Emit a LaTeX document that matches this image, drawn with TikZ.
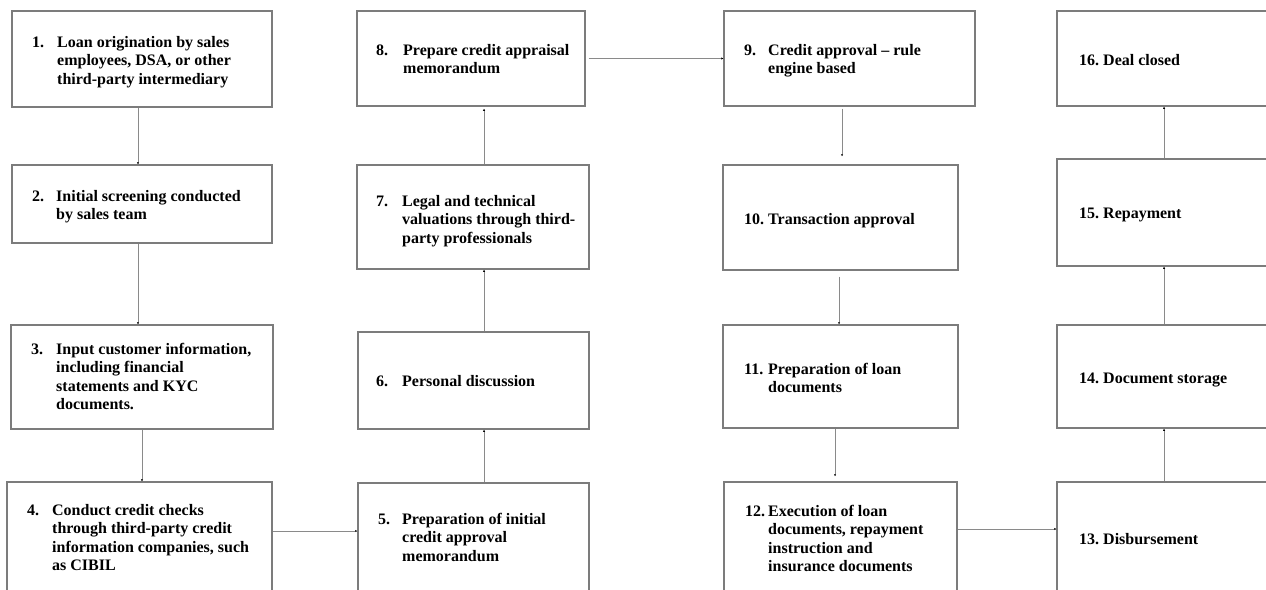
\documentclass[tikz,border=0pt]{standalone}
\usepackage{fontspec}
\setmainfont{Liberation Serif}
\usetikzlibrary{arrows.meta,fit}

\definecolor{boxgray}{HTML}{7C7C7C}
\definecolor{linegray}{HTML}{8A8A8A}

\tikzset{
  stepbox/.style={draw=boxgray, line width=1.1pt, fill=white, inner sep=0pt},
  conn/.style={draw=linegray, line width=0.65pt,
    -{Latex[length=2.2pt,width=2.2pt,color=black]}},
  steptext/.style={anchor=base west, inner sep=0pt,
    font=\fontsize{16}{18.6}\selectfont\bfseries},
}

% numbered step text with a hanging indent
\newcommand{\steplist}[3]{\begin{tabular}[t]{@{}p{#1}@{}l@{}}#2 & #3\end{tabular}}

\begin{document}
\begin{tikzpicture}[x=1pt,y=-1pt]
\useasboundingbox (0,0) rectangle (1266,589);
\clip (0,0) rectangle (1266,589);

% column 1
\node[stepbox, fit={(12,11) (272,107)}]  (b1) {};
\node[stepbox, fit={(12,165) (272,243)}] (b2) {};
\node[stepbox, fit={(11,325) (273,429)}] (b3) {};
\node[stepbox, fit={(7,482) (272,600)}]  (b4) {};
% column 2
\node[stepbox, fit={(358,483) (589,600)}] (b5) {};
\node[stepbox, fit={(358,332) (589,429)}] (b6) {};
\node[stepbox, fit={(357,165) (589,269)}] (b7) {};
\node[stepbox, fit={(357,11) (585,106)}]  (b8) {};
% column 3
\node[stepbox, fit={(724,11) (975,106)}]  (b9) {};
\node[stepbox, fit={(723,165) (958,270)}] (b10) {};
\node[stepbox, fit={(723,325) (958,428)}] (b11) {};
\node[stepbox, fit={(724,482) (957,600)}] (b12) {};
% column 4
\node[stepbox, fit={(1057,482) (1271,600)}] (b13) {};
\node[stepbox, fit={(1057,325) (1271,428)}] (b14) {};
\node[stepbox, fit={(1057,159) (1271,266)}] (b15) {};
\node[stepbox, fit={(1057,11) (1271,106)}]  (b16) {};

% step texts
\node[steptext] (t1) at (32,47) {\steplist{25pt}{1.}{Loan origination by sales\\ & employees, DSA, or other\\ & third-party intermediary}};
\node[steptext] (t2) at (32,201) {\steplist{24pt}{2.}{Initial screening conducted\\ & by sales team}};
\node[steptext] (t3) at (31,354) {\steplist{25pt}{3.}{Input customer information,\\ & including financial\\ & statements and KYC\\ & documents.}};
\node[steptext] (t4) at (27,515) {\steplist{25pt}{4.}{Conduct credit checks\\ & through third-party credit\\ & information companies, such\\ & as CIBIL}};
\node[steptext] (t5) at (378,524) {\steplist{24pt}{5.}{Preparation of initial\\ & credit approval\\ & memorandum}};
\node[steptext] (t6) at (376,386) {\steplist{26pt}{6.}{Personal discussion}};
\node[steptext] (t7) at (376,206) {\steplist{26pt}{7.}{Legal and technical\\ & valuations through third-\\ & party professionals}};
\node[steptext] (t8) at (376,55) {\steplist{27pt}{8.}{Prepare credit appraisal\\ & memorandum}};
\node[steptext] (t9) at (744,55) {\steplist{24pt}{9.}{Credit approval -- rule\\ & engine based}};
\node[steptext] (t10) at (744,224) {\steplist{24pt}{10.}{Transaction approval}};
\node[steptext] (t11) at (744,374) {\steplist{24pt}{11.}{Preparation of loan\\ & documents}};
\node[steptext] (t12) at (745,516) {\steplist{23pt}{12.}{Execution of loan\\ & documents, repayment\\ & instruction and\\ & insurance documents}};
\node[steptext] (t13) at (1079,544) {\steplist{24pt}{13.}{Disbursement}};
\node[steptext] (t14) at (1079,383) {\steplist{24pt}{14.}{Document storage}};
\node[steptext] (t15) at (1079,218) {\steplist{24pt}{15.}{Repayment}};
\node[steptext] (t16) at (1079,65) {\steplist{24pt}{16.}{Deal closed}};

% connectors
\draw[conn] ([xshift=-4pt]b1.south) -- ([xshift=-4pt]b2.north);
\draw[conn] ([xshift=-4pt]b2.south) -- ([xshift=-4pt]b3.north);
\draw[conn] (b3.south) -- ([xshift=2.5pt]b4.north);
\draw[conn] ([yshift=10pt]b4.east) -- ([yshift=10.5pt]b5.west);
\draw[conn] ([xshift=10.5pt]b5.north) -- ([xshift=10.5pt]b6.south);
\draw[conn] ([xshift=10.5pt]b6.north) -- ([xshift=11pt]b7.south);
\draw[conn, shorten >=2pt] ([xshift=11pt]b7.north) -- ([xshift=13pt]b8.south);
\draw[conn, shorten <=3pt] (b8.east) -- (b9.west);
\draw[conn, shorten <=2pt, shorten >=8pt] ([xshift=-7.5pt]b9.south) -- ([xshift=1.5pt]b10.north);
\draw[conn, shorten <=6pt] ([xshift=-1.5pt]b10.south) -- ([xshift=-1.5pt]b11.north);
\draw[conn, shorten >=5pt] ([xshift=-5.5pt]b11.south) -- ([xshift=-5.5pt]b12.north);
\draw[conn] ([yshift=12pt]b12.east) -- ([yshift=12pt]b13.west);
\draw[conn] (b13.north) -- (b14.south);
\draw[conn] (b14.north) -- (b15.south);
\draw[conn] (b15.north) -- (b16.south);
\end{tikzpicture}
\end{document}
